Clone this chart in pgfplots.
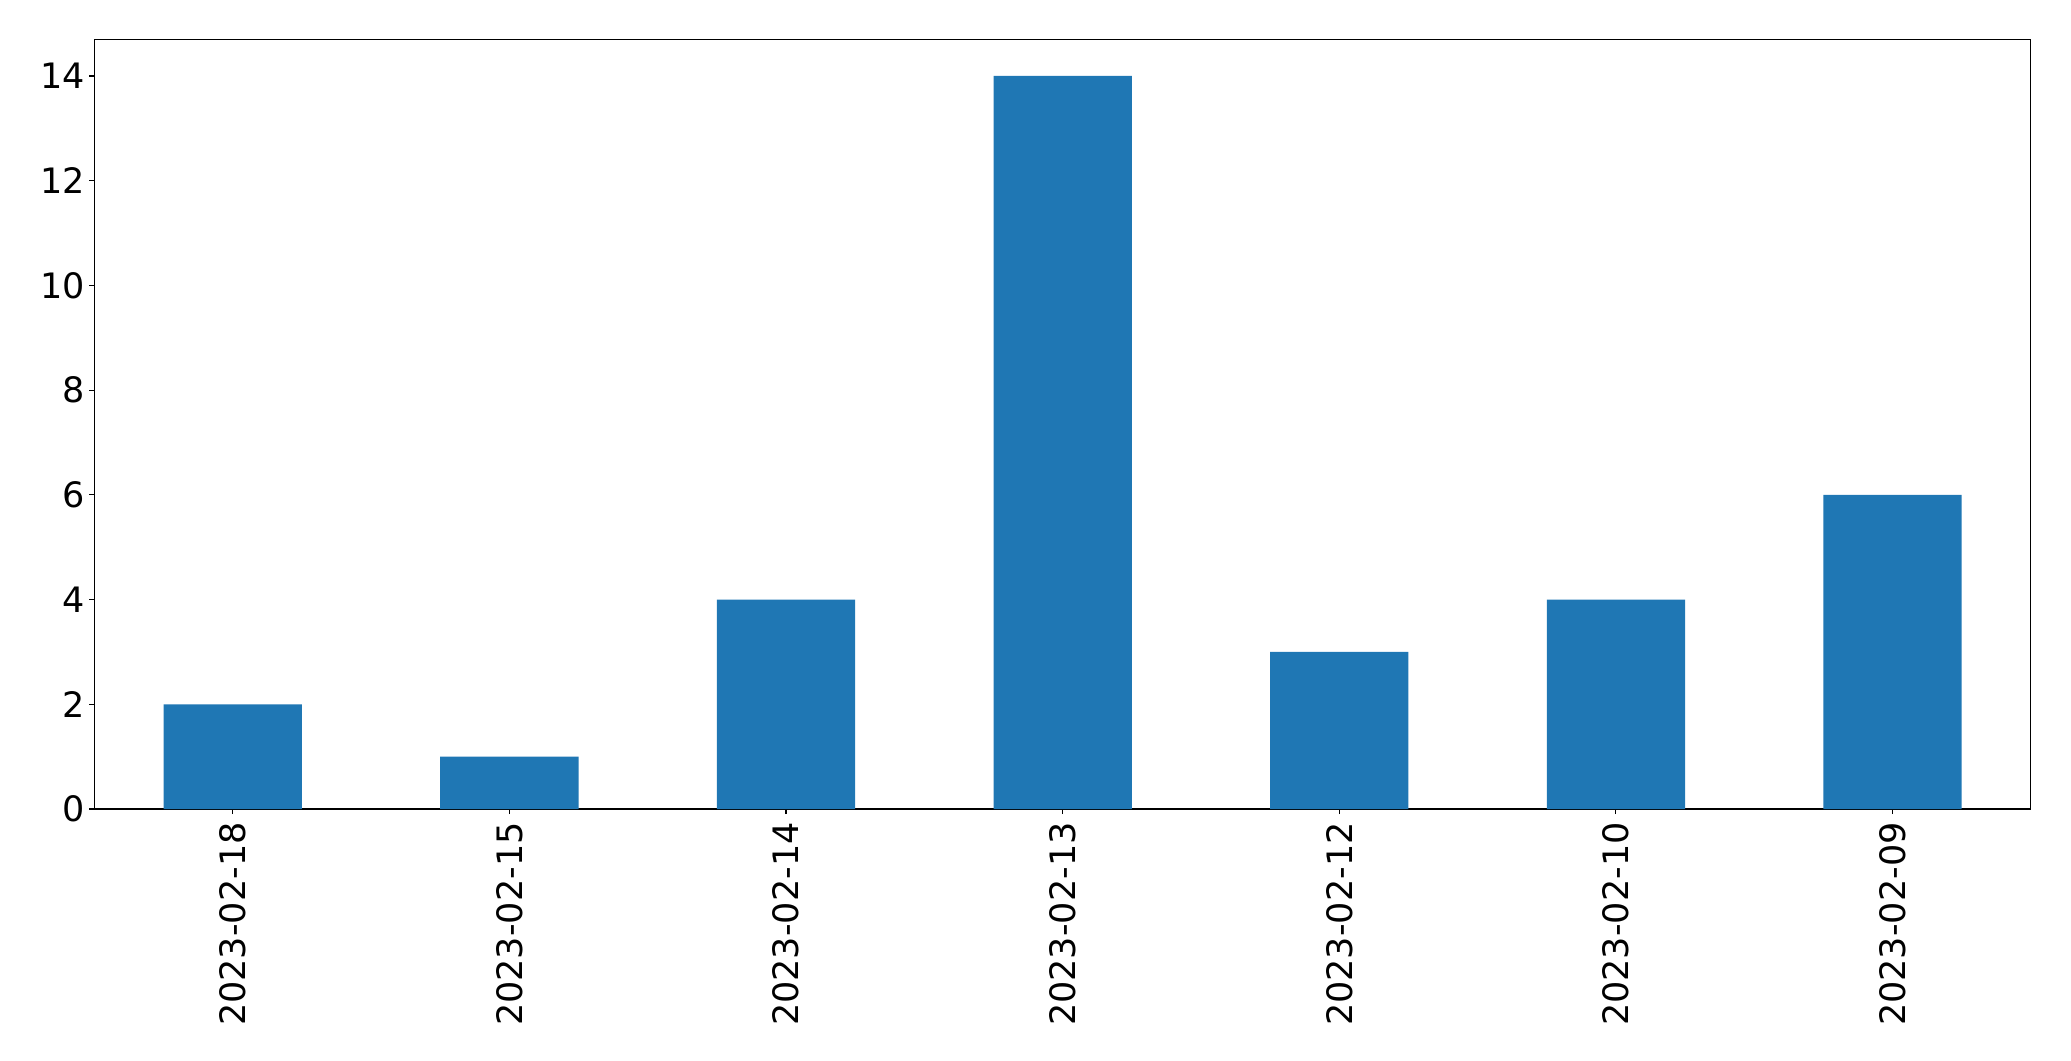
\documentclass[border=0pt]{standalone}
\usepackage{pgfplots}
\pgfplotsset{compat=1.18}
\usepackage{fontspec}
\setmainfont{DejaVu Sans}
\definecolor{tabblue}{HTML}{1F77B4}
\begin{document}
\begin{tikzpicture}
\useasboundingbox (-68.0pt,-181.4pt) rectangle (1423.1pt,582.5pt);
\begin{axis}[
  scale only axis,
  width=1394.3pt, height=554.2pt,
  xmin=-0.5, xmax=6.5, ymin=0, ymax=14.7,
  xtick={0,1,2,3,4,5,6},
  xticklabels={2023-02-18,2023-02-15,2023-02-14,2023-02-13,2023-02-12,2023-02-10,2023-02-09},
  ytick={0,2,4,6,8,10,12,14},
  tick align=outside,
  tick pos=left,
  major tick length=3.6pt,
  tick style={black, line width=0.8pt},
  axis line style={black, line width=0.8pt},
  /pgf/number format/assume math mode=true,
  tick label style={font=\fontsize{25.2}{30}\selectfont},
  xticklabel style={rotate=90, anchor=east, inner sep=0pt, outer sep=0pt},
  yticklabel style={inner sep=0pt, outer sep=0pt},
  xticklabel shift=6pt,
  yticklabel shift=3.3pt,
]
\addplot[ybar, bar width=0.5, fill=tabblue, draw=none, bar shift=0pt] coordinates {
(0,2) (1,1) (2,4) (3,14) (4,3) (5,4) (6,6)
};
\end{axis}
\end{tikzpicture}
\end{document}
